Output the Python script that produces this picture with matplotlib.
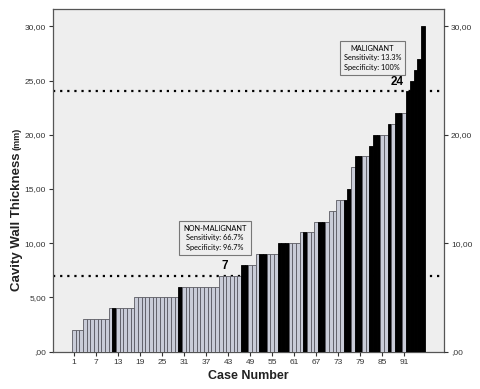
import matplotlib
matplotlib.use("Agg")
import matplotlib.pyplot as plt

plt.rcParams["font.family"] = ["Liberation Sans", "DejaVu Sans"]

# case values (sorted), and whether malignant (1 = black bar)
thickness = [2, 2, 2,
             3, 3, 3, 3, 3, 3, 3,
             4, 4, 4, 4, 4, 4, 4,
             5, 5, 5, 5, 5, 5, 5, 5, 5, 5, 5, 5,
             6, 6, 6, 6, 6, 6, 6, 6, 6, 6, 6,
             7, 7, 7, 7, 7, 7,
             8, 8, 8, 8,
             9, 9, 9, 9, 9, 9,
             10, 10, 10, 10, 10, 10,
             11, 11, 11, 11,
             12, 12, 12, 12,
             13, 13,
             14, 14, 14,
             15, 17,
             18, 18, 18, 18,
             19, 20, 20, 20, 20,
             21, 21, 22, 22, 22,
             24, 25, 26, 27, 30]
malignant = [0, 0, 0,
             0, 0, 0, 0, 0, 0, 0,
             0, 1, 0, 0, 0, 0, 0,
             0, 0, 0, 0, 0, 0, 0, 0, 0, 0, 0, 0,
             1, 0, 0, 0, 0, 0, 0, 0, 0, 0, 0,
             0, 0, 0, 0, 0, 0,
             1, 1, 0, 0,
             0, 1, 1, 0, 0, 0,
             1, 1, 1, 0, 0, 0,
             0, 1, 0, 0,
             0, 1, 1, 0,
             0, 0,
             0, 0, 1,
             1, 0,
             1, 1, 0, 0,
             1, 1, 1, 0, 0,
             1, 0, 1, 1, 0,
             1, 1, 1, 1, 1]
cases = list(range(1, len(thickness) + 1))
xtick_cases = list(range(1, 92, 6))
cutoffs = [7, 24]

fig = plt.figure(figsize=(4.8, 3.89), dpi=100)
ax = fig.add_axes([0.110, 0.096, 0.815, 0.881])
ax.set_facecolor("#eeeeee")

colors = ["black" if m else "#c9ccd8" for m in malignant]
edges = ["black" if m else "#5a5a62" for m in malignant]
ax.bar(cases, thickness, width=1.0, color=colors, edgecolor=edges, linewidth=0.6, zorder=3)

for c in cutoffs:
    ax.axhline(c, color="black", lw=1.6, ls=(0, (1, 2.2)), zorder=2)

ax.set_xlim(-4.7, 101.8)
ax.set_ylim(0, 31.6)

yt = [0, 5, 10, 15, 20, 25, 30]
ax.set_yticks(yt)
ax.set_yticklabels([",00"] + ["%d,00" % v for v in yt[1:]])
ax.set_xticks(xtick_cases)
ax.tick_params(axis="both", labelsize=6, colors="#333333", length=3, width=0.8, pad=2)

for s in ax.spines.values():
    s.set_color("#555555")
    s.set_linewidth(0.9)

ax2 = ax.twinx()
ax2.set_ylim(0, 31.6)
ax2.set_yticks([0, 10, 20, 30])
ax2.set_yticklabels([",00", "10,00", "20,00", "30,00"])
ax2.tick_params(axis="y", labelsize=6, colors="#333333", length=3, width=0.8, pad=2)
for s in ax2.spines.values():
    s.set_visible(False)

ax.set_xlabel("Case Number", fontsize=9, fontweight="bold", labelpad=3, color="#222222")

# y label: main part plus smaller "(mm)" directly above it
lab = fig.text(0.035, 0.43, "Cavity Wall Thickness", rotation=90, ha="center", va="center",
               fontsize=9.5, fontweight="bold", color="#222222")
fig.canvas.draw()
top = lab.get_window_extent().y1 / fig.bbox.height
fig.text(0.035, top + 0.006, "(mm)", rotation=90, ha="center", va="bottom",
         fontsize=6.5, fontweight="bold", color="#222222")

box_font = ["Lato", "DejaVu Sans"]
ax.text(39.5, 10.5, "NON-MALIGNANT\nSensitivity: 66.7%\nSpecificity: 96.7%",
        ha="center", va="center", fontsize=5.3, linespacing=1.45, zorder=5, family=box_font,
        bbox=dict(boxstyle="square,pad=0.55", fc="#eeeeee", ec="#777777", lw=0.8))
ax.text(42, 7.9, "7", ha="center", va="center", fontsize=8.5, fontweight="bold", zorder=5)

ax.text(82.3, 27.1, "MALIGNANT\nSensitivity: 13.3%\nSpecificity: 100%",
        ha="center", va="center", fontsize=5.3, linespacing=1.45, zorder=5, family=box_font,
        bbox=dict(boxstyle="square,pad=0.55", fc="#eeeeee", ec="#777777", lw=0.8))
ax.text(89, 24.9, "24", ha="center", va="center", fontsize=8.5, fontweight="bold", zorder=5)

fig.savefig("out.png", dpi=100, facecolor="white")
